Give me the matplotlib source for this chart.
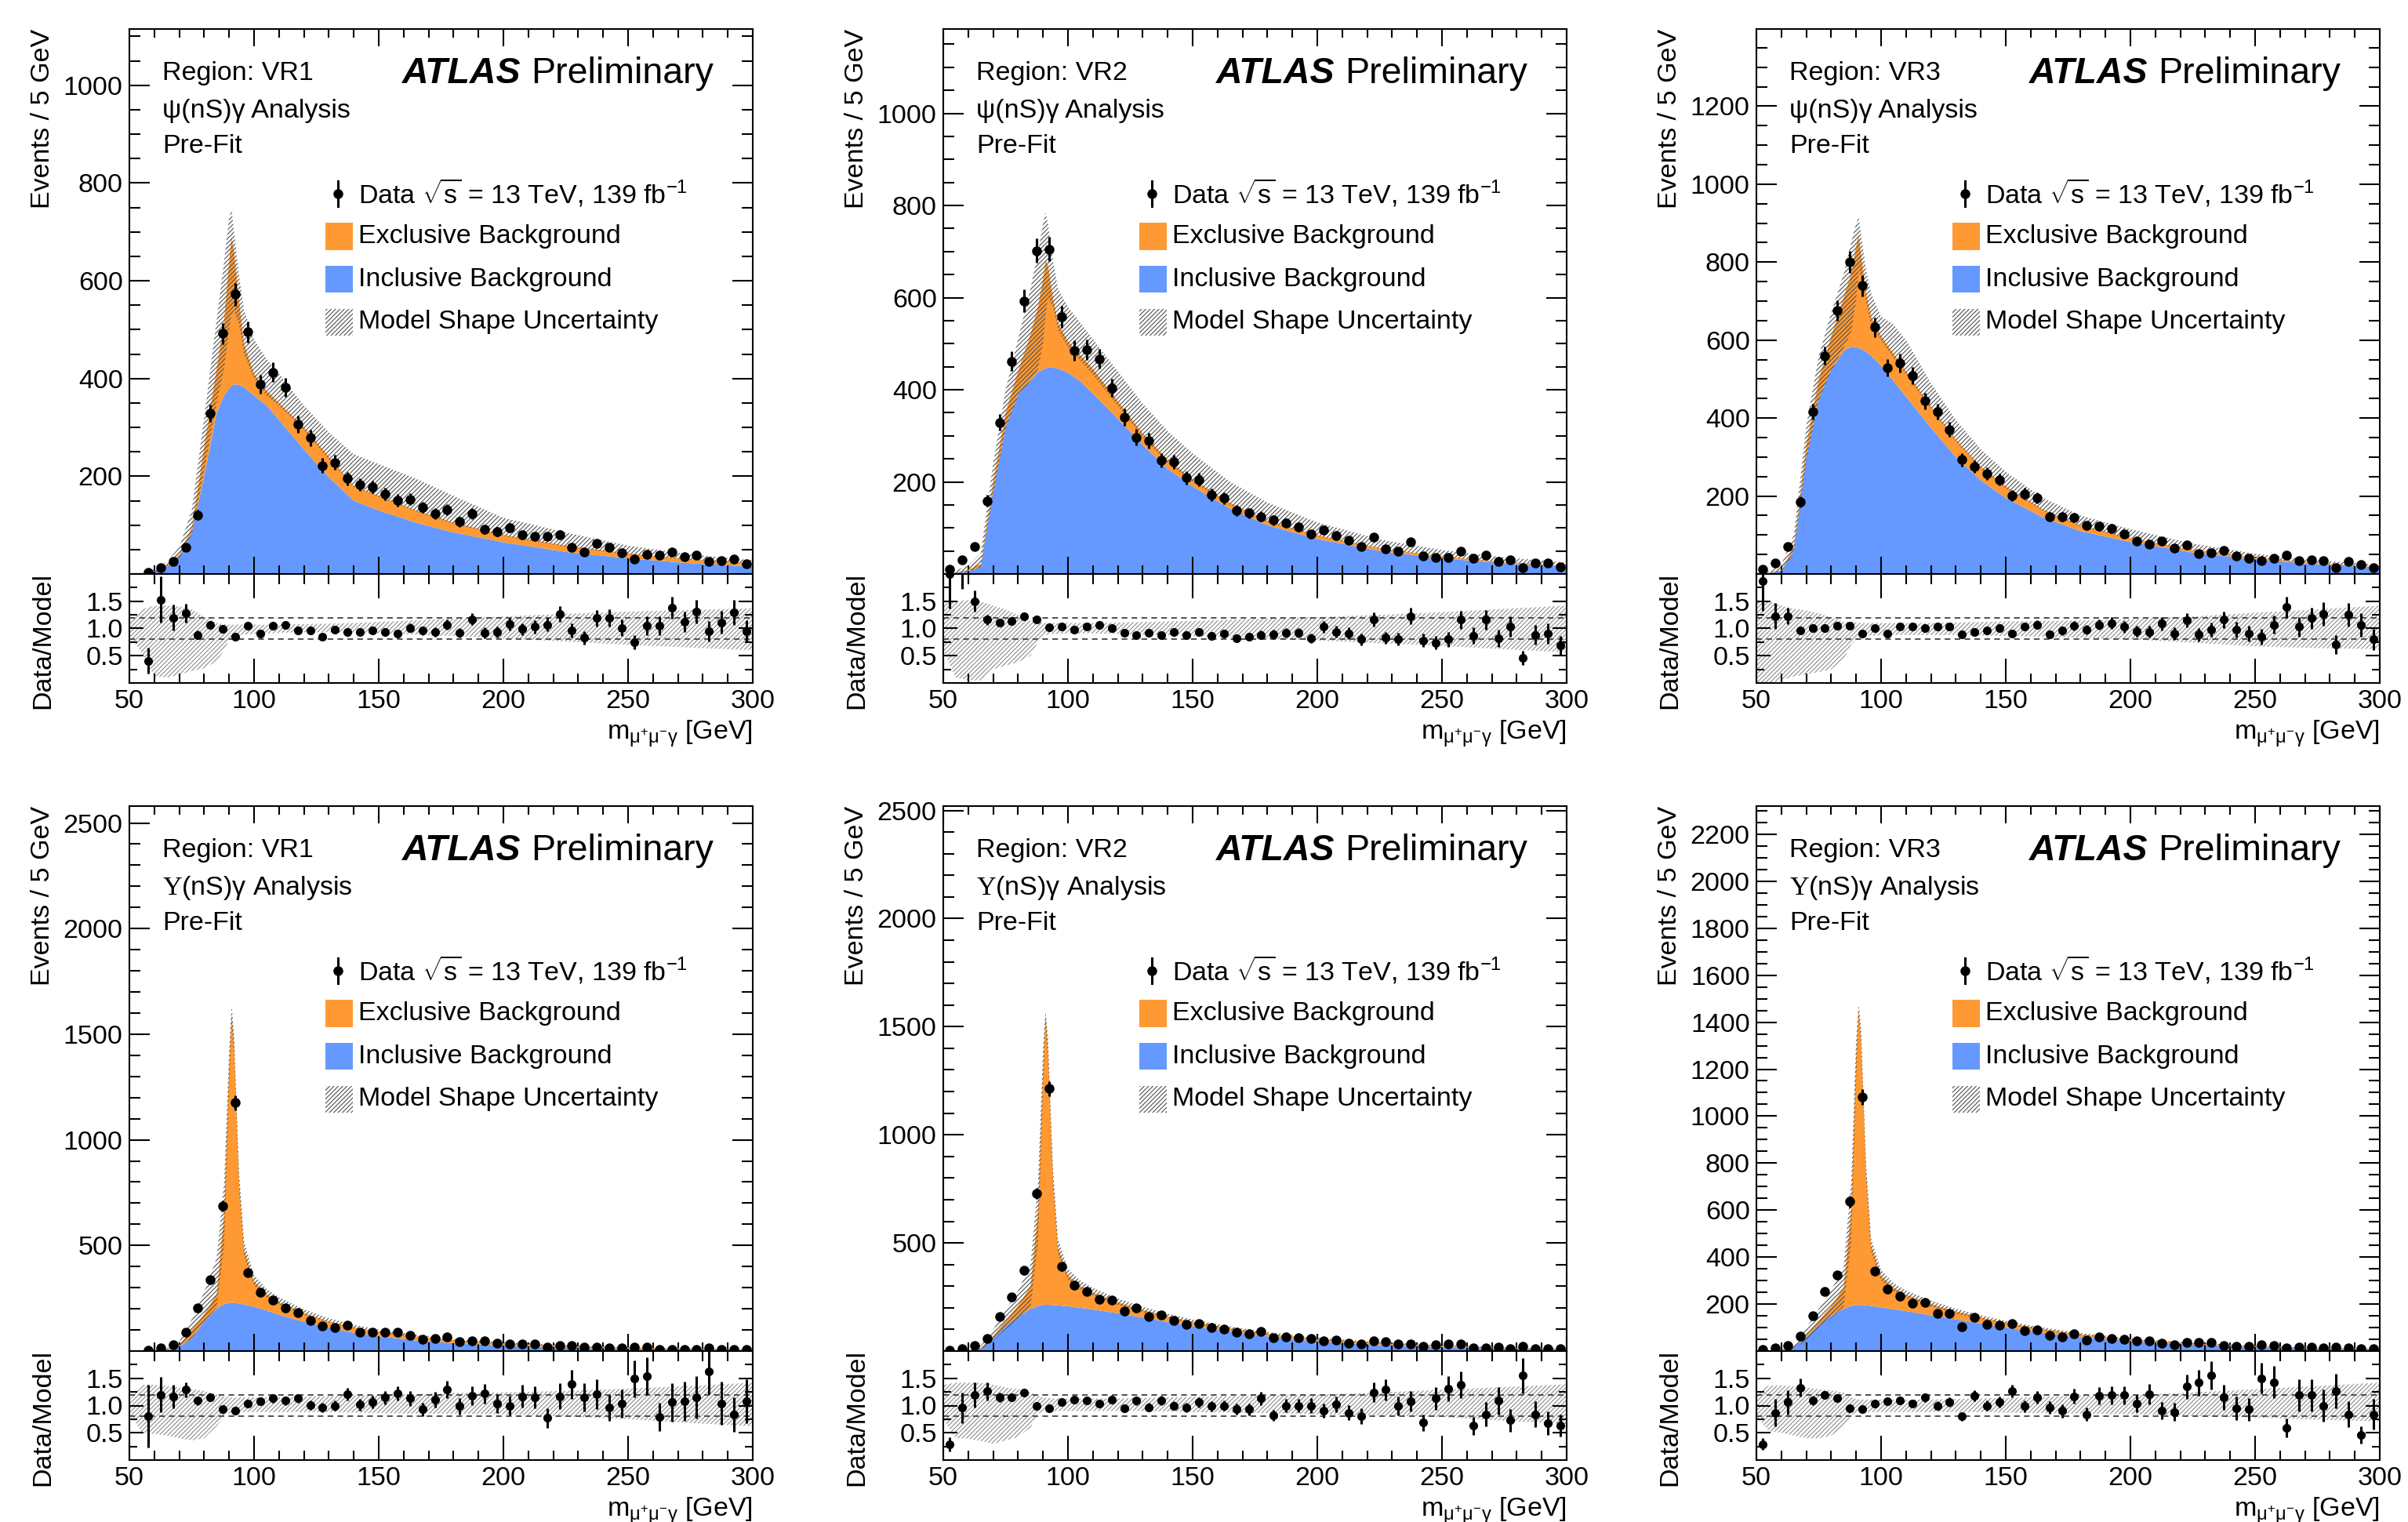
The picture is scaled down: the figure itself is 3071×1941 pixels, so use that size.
import numpy as np
import matplotlib
matplotlib.use('Agg')
import matplotlib.pyplot as plt
from matplotlib.ticker import MultipleLocator
from matplotlib.patches import Rectangle

plt.rcParams['font.family'] = ['Liberation Sans', 'DejaVu Sans']
plt.rcParams['mathtext.fontset'] = 'custom'
plt.rcParams['mathtext.rm'] = 'Liberation Sans'
plt.rcParams['mathtext.it'] = 'Liberation Sans:italic'
plt.rcParams['mathtext.bf'] = 'Liberation Sans:bold'
plt.rcParams['mathtext.sf'] = 'Liberation Serif'
plt.rcParams['hatch.linewidth'] = 0.8

nan = np.nan
FS = 24.5

# bin centres of the 5 GeV histogram bins, 50-300 GeV
bin_centers = np.arange(52.5, 300, 5.0)

model_x = [50, 55, 60, 65, 70, 75, 80, 85, 88, 90, 91, 92, 94, 96, 100, 105, 110,
           120, 130, 140, 150, 165, 180, 200, 225, 250, 275, 300]

# ---------------- psi(nS)gamma, VR1 ----------------
psi_vr1_data = [nan, 3, 13, 26, 55, 121, 329, 492, 572, 495, 388, 413, 382, 307, 279, 222, 228,
                195, 183, 178, 164, 151, 153, 136, 124, 131, 107, 123, 92, 87, 94, 80, 77, 77, 81,
                55, 45, 62, 55, 44, 31, 40, 38, 45, 35, 38, 26, 28, 31, 21]
psi_vr1_ratio = [nan, 0.41, 1.53, 1.20, 1.28, 0.88, 1.07, 0.99, 0.85, 1.05, 0.91, 1.05, 1.06, 0.97,
                 0.97, 0.85, 0.98, 0.94, 0.94, 0.97, 0.94, 0.91, 1.01, 0.96, 0.94, 1.07, 0.92, 1.17,
                 0.92, 0.94, 1.08, 0.99, 1.03, 1.07, 1.27, 0.96, 0.83, 1.19, 1.19, 1.01, 0.75, 1.05,
                 1.05, 1.38, 1.12, 1.31, 0.95, 1.11, 1.29, 0.95]
psi_vr1_incl = [0, 0, 5, 15, 35, 85, 200, 330, 365, 380, 385, 388, 387, 382, 365, 345, 315,
                255, 198, 150, 130, 105, 85, 65, 45, 32, 22, 15]
psi_vr1_total = [0, 0, 6, 18, 40, 95, 260, 420, 520, 640, 690, 660, 560, 470, 410, 375, 350,
                 300, 240, 180, 160, 130, 105, 80, 58, 42, 30, 22]
psi_vr1_band_hi = [0, 2, 10, 25, 55, 130, 320, 520, 640, 730, 745, 700, 610, 540, 480, 440, 410,
                   345, 290, 245, 225, 195, 160, 115, 85, 58, 40, 28]
psi_vr1_band_lo = [0, 0, 3, 12, 30, 80, 210, 350, 420, 500, 530, 540, 510, 450, 400, 365, 345,
                   295, 235, 178, 158, 128, 103, 78, 56, 40, 29, 21]
psi_vr1_rband_hi = [1.10, 1.35, 1.42, 1.42, 1.40, 1.35, 1.22, 1.10, 1.08, 1.07, 1.07, 1.07, 1.07, 1.07,
                    1.07, 1.07, 1.08, 1.08, 1.09, 1.10, 1.12, 1.15, 1.18, 1.22, 1.27, 1.31, 1.34, 1.37]
psi_vr1_rband_lo = [0.88, 0.55, 0.12, 0.10, 0.15, 0.22, 0.27, 0.40, 0.60, 0.78, 0.83, 0.86, 0.88, 0.89,
                    0.90, 0.91, 0.92, 0.93, 0.93, 0.92, 0.91, 0.89, 0.86, 0.82, 0.76, 0.70, 0.65, 0.60]

# ---------------- psi(nS)gamma, VR2 ----------------
psi_vr2_data = [10, 31, 59, 159, 329, 462, 593, 702, 705, 558, 485, 487, 467, 404, 341, 297, 289,
                247, 243, 209, 205, 172, 165, 138, 132, 125, 117, 111, 102, 86, 96, 83, 73, 60, 80,
                55, 49, 70, 39, 36, 36, 50, 34, 41, 28, 31, 13, 24, 24, 15]
psi_vr2_ratio = [2.0, 2.1, 1.50, 1.16, 1.11, 1.13, 1.22, 1.16, 1.02, 1.04, 0.98, 1.04, 1.07, 1.01,
                 0.92, 0.88, 0.92, 0.88, 0.94, 0.88, 0.94, 0.86, 0.91, 0.82, 0.85, 0.88, 0.89, 0.92,
                 0.92, 0.82, 1.03, 0.94, 0.91, 0.80, 1.16, 0.83, 0.80, 1.23, 0.78, 0.74, 0.80, 1.16,
                 0.87, 1.16, 0.82, 1.04, 0.46, 0.88, 0.91, 0.69]
psi_vr2_incl = [0, 2, 6, 15, 180, 320, 390, 420, 438, 444, 446, 448, 448, 446, 437, 418, 392,
                337, 280, 228, 190, 142, 106, 76, 50, 34, 23, 16]
psi_vr2_total = [0, 3, 9, 22, 200, 350, 440, 520, 580, 640, 680, 670, 600, 545, 505, 475, 445,
                 375, 305, 248, 206, 154, 116, 84, 56, 38, 26, 18]
psi_vr2_band_hi = [2, 8, 18, 45, 240, 400, 510, 620, 700, 760, 785, 760, 680, 620, 580, 545, 510,
                   440, 370, 310, 262, 200, 155, 112, 75, 52, 36, 25]
psi_vr2_band_lo = [0, 1, 5, 14, 175, 315, 385, 420, 445, 500, 560, 600, 580, 530, 492, 463, 433,
                   365, 297, 241, 200, 150, 113, 82, 55, 37, 25, 17]
psi_vr2_rband_hi = [1.45, 1.50, 1.52, 1.50, 1.42, 1.35, 1.25, 1.14, 1.12, 1.11, 1.10, 1.10, 1.10, 1.10,
                    1.10, 1.10, 1.10, 1.11, 1.12, 1.13, 1.14, 1.16, 1.18, 1.21, 1.25, 1.30, 1.36, 1.42]
psi_vr2_rband_lo = [0.60, 0.10, 0.05, 0.05, 0.25, 0.32, 0.38, 0.50, 0.75, 0.86, 0.88, 0.89, 0.90, 0.90,
                    0.91, 0.91, 0.91, 0.90, 0.89, 0.88, 0.86, 0.84, 0.81, 0.78, 0.73, 0.68, 0.62, 0.56]

# ---------------- psi(nS)gamma, VR3 ----------------
psi_vr3_data = [12, 28, 71, 185, 417, 560, 676, 800, 740, 633, 529, 541, 509, 444, 417, 371, 293,
                276, 258, 242, 202, 206, 196, 147, 147, 144, 124, 122, 117, 102, 85, 77, 84, 66, 75,
                53, 54, 60, 46, 40, 35, 41, 49, 34, 37, 35, 17, 33, 25, 17]
psi_vr3_ratio = [1.87, 1.23, 1.23, 0.96, 1.01, 1.01, 1.05, 1.05, 0.91, 1.00, 0.91, 1.03, 1.03, 1.00,
                 1.03, 1.03, 0.89, 0.93, 0.96, 1.00, 0.91, 1.03, 1.07, 0.89, 0.96, 1.05, 0.98, 1.07,
                 1.10, 1.03, 0.95, 0.94, 1.09, 0.91, 1.15, 0.89, 0.98, 1.16, 0.98, 0.91, 0.85, 1.07,
                 1.39, 1.03, 1.19, 1.27, 0.71, 1.25, 1.07, 0.80]
psi_vr3_incl = [0, 2, 8, 60, 300, 450, 525, 572, 583, 582, 580, 577, 570, 560, 535, 495, 455,
                375, 300, 240, 195, 145, 110, 82, 55, 37, 25, 17]
psi_vr3_total = [0, 3, 10, 70, 330, 500, 610, 710, 770, 840, 870, 820, 720, 660, 610, 565, 520,
                 430, 345, 275, 225, 165, 125, 92, 62, 42, 28, 19]
psi_vr3_band_hi = [1, 8, 25, 100, 380, 560, 670, 770, 850, 900, 915, 870, 780, 720, 660, 640, 600,
                   490, 395, 320, 262, 195, 150, 115, 78, 52, 35, 24]
psi_vr3_band_lo = [0, 1, 5, 55, 290, 445, 520, 580, 620, 700, 780, 760, 700, 640, 600, 555, 512,
                   425, 340, 270, 220, 162, 122, 90, 61, 41, 27, 18]
psi_vr3_rband_hi = [1.50, 1.50, 1.42, 1.36, 1.33, 1.28, 1.20, 1.12, 1.12, 1.11, 1.11, 1.10, 1.10, 1.10,
                    1.10, 1.10, 1.10, 1.10, 1.11, 1.12, 1.13, 1.14, 1.15, 1.17, 1.22, 1.29, 1.35, 1.42]
psi_vr3_rband_lo = [0.00, 0.00, 0.05, 0.12, 0.16, 0.20, 0.25, 0.44, 0.70, 0.80, 0.84, 0.86, 0.87, 0.87,
                    0.87, 0.88, 0.88, 0.88, 0.88, 0.87, 0.86, 0.85, 0.83, 0.80, 0.74, 0.67, 0.64, 0.62]

# ---------------- Upsilon(nS)gamma, VR1 ----------------
ups_vr1_data = [nan, 2, 14, 29, 88, 206, 337, 687, 1175, 371, 278, 240, 206, 183, 145, 120, 111,
                122, 88, 88, 88, 88, 75, 54, 59, 66, 43, 47, 47, 36, 32, 32, 32, 18, 25, 27, 20, 20,
                16, 16, 20, 20, 9, 9, 9, 9, 16, 7, 7, 7]
ups_vr1_ratio = [nan, 0.81, 1.20, 1.17, 1.29, 1.09, 1.15, 0.93, 0.91, 1.04, 1.08, 1.13, 1.09, 1.13,
                 1.01, 0.96, 1.00, 1.21, 1.02, 1.06, 1.15, 1.22, 1.13, 0.93, 1.11, 1.29, 0.99, 1.18,
                 1.22, 1.04, 1.00, 1.17, 1.15, 0.77, 1.17, 1.39, 1.15, 1.21, 0.96, 1.04, 1.49, 1.54,
                 0.79, 1.06, 1.08, 1.15, 1.62, 1.04, 0.84, 1.08]
ups_vr1_incl = [0, 0, 2, 5, 20, 60, 140, 200, 222, 228, 229, 228, 225, 220, 210, 192, 172,
                138, 111, 86, 70, 50, 37, 26, 17, 11, 7, 5]
ups_vr1_total = [0, 0, 3, 8, 30, 100, 175, 270, 650, 1350, 1600, 1450, 800, 480, 330, 270, 232,
                 180, 140, 112, 92, 70, 52, 37, 25, 17, 11, 8]
ups_vr1_band_hi = [0, 1, 5, 12, 45, 150, 280, 440, 800, 1420, 1640, 1500, 850, 520, 360, 295, 255,
                   198, 155, 125, 102, 78, 58, 42, 28, 19, 13, 9]
ups_vr1_band_lo = [0, 0, 1, 4, 18, 60, 140, 205, 500, 1250, 1540, 1400, 760, 450, 310, 255, 220,
                   172, 135, 108, 88, 67, 50, 35, 24, 16, 10, 7]
ups_vr1_rband_hi = [1.10, 1.38, 1.38, 1.36, 1.33, 1.30, 1.27, 1.20, 1.17, 1.16, 1.15, 1.15, 1.15, 1.15,
                    1.15, 1.15, 1.15, 1.16, 1.17, 1.18, 1.19, 1.21, 1.23, 1.24, 1.27, 1.31, 1.36, 1.42]
ups_vr1_rband_lo = [0.88, 0.50, 0.48, 0.45, 0.40, 0.36, 0.40, 0.62, 0.80, 0.86, 0.87, 0.88, 0.88, 0.88,
                    0.88, 0.88, 0.88, 0.88, 0.88, 0.87, 0.86, 0.85, 0.85, 0.84, 0.80, 0.75, 0.68, 0.62]

# ---------------- Upsilon(nS)gamma, VR2 ----------------
ups_vr2_data = [5, 12, 27, 58, 159, 251, 372, 729, 1214, 390, 306, 277, 240, 235, 185, 198, 159,
                168, 141, 124, 128, 108, 102, 86, 80, 91, 60, 65, 60, 58, 47, 49, 38, 32, 47, 45, 32,
                32, 21, 30, 32, 32, 14, 14, 19, 12, 23, 12, 10, 10]
ups_vr2_ratio = [0.29, 0.96, 1.20, 1.26, 1.15, 1.15, 1.24, 1.00, 0.95, 1.06, 1.11, 1.09, 1.04, 1.11,
                 0.95, 1.09, 0.97, 1.09, 1.00, 0.97, 1.06, 0.99, 1.00, 0.93, 0.93, 1.13, 0.82, 1.00,
                 1.00, 1.00, 0.91, 1.02, 0.87, 0.81, 1.24, 1.29, 0.99, 1.08, 0.69, 1.13, 1.31, 1.38,
                 0.63, 0.84, 1.09, 0.73, 1.55, 0.84, 0.68, 0.63]
ups_vr2_incl = [0, 0, 2, 12, 60, 115, 160, 195, 208, 213, 214, 214, 213, 211, 207, 200, 192,
                175, 155, 135, 115, 90, 68, 44, 28, 18, 12, 8]
ups_vr2_total = [0, 0, 3, 15, 70, 140, 210, 300, 650, 1300, 1560, 1400, 800, 480, 350, 300, 270,
                 225, 190, 160, 135, 105, 80, 56, 37, 24, 16, 11]
ups_vr2_band_hi = [0, 1, 6, 25, 100, 190, 280, 400, 780, 1400, 1575, 1450, 850, 520, 380, 325, 292,
                   243, 205, 173, 146, 114, 88, 62, 41, 27, 18, 13]
ups_vr2_band_lo = [0, 0, 1, 8, 45, 100, 150, 200, 500, 1200, 1500, 1350, 760, 450, 330, 285, 257,
                   213, 180, 152, 128, 100, 76, 53, 35, 23, 15, 10]
ups_vr2_rband_hi = [1.38, 1.42, 1.42, 1.42, 1.38, 1.33, 1.30, 1.24, 1.18, 1.15, 1.14, 1.14, 1.13, 1.13,
                    1.13, 1.13, 1.13, 1.13, 1.14, 1.15, 1.16, 1.17, 1.18, 1.20, 1.24, 1.29, 1.34, 1.39]
ups_vr2_rband_lo = [0.75, 0.40, 0.39, 0.35, 0.30, 0.36, 0.42, 0.60, 0.85, 0.89, 0.90, 0.90, 0.90, 0.90,
                    0.90, 0.90, 0.90, 0.90, 0.90, 0.89, 0.88, 0.87, 0.86, 0.84, 0.82, 0.79, 0.72, 0.66]

# ---------------- Upsilon(nS)gamma, VR3 ----------------
ups_vr3_data = [7, 12, 22, 63, 149, 253, 323, 636, 1081, 339, 263, 233, 202, 206, 161, 159, 104,
                145, 114, 110, 118, 87, 91, 67, 59, 73, 46, 59, 52, 50, 42, 42, 32, 28, 36, 36, 36,
                24, 20, 20, 28, 24, 12, 16, 16, 12, 16, 12, 9, 9]
ups_vr3_ratio = [0.29, 0.87, 1.06, 1.33, 1.09, 1.19, 1.14, 0.95, 0.93, 1.04, 1.08, 1.09, 1.04, 1.15,
                 1.00, 1.06, 0.80, 1.18, 1.00, 1.06, 1.26, 0.99, 1.15, 0.96, 0.90, 1.17, 0.84, 1.18,
                 1.19, 1.19, 1.04, 1.21, 0.91, 0.88, 1.35, 1.42, 1.55, 1.15, 0.95, 0.93, 1.50, 1.43,
                 0.59, 1.19, 1.19, 1.00, 1.27, 0.84, 0.46, 0.84]
ups_vr3_incl = [0, 0, 2, 15, 60, 110, 150, 180, 192, 196, 196, 196, 195, 192, 186, 178, 170,
                152, 135, 117, 100, 78, 60, 42, 27, 17, 11, 7]
ups_vr3_total = [0, 0, 3, 18, 70, 130, 190, 270, 600, 1250, 1460, 1330, 760, 450, 320, 270, 240,
                 200, 168, 143, 120, 93, 71, 50, 33, 21, 14, 9]
ups_vr3_band_hi = [0, 1, 6, 28, 100, 180, 260, 360, 720, 1330, 1480, 1370, 800, 480, 345, 290, 258,
                   215, 180, 153, 129, 100, 77, 54, 36, 23, 15, 10]
ups_vr3_band_lo = [0, 0, 1, 10, 45, 95, 140, 190, 460, 1150, 1420, 1300, 720, 425, 302, 255, 228,
                   190, 160, 136, 114, 88, 67, 47, 31, 20, 13, 8]
ups_vr3_rband_hi = [1.24, 1.37, 1.37, 1.35, 1.33, 1.30, 1.28, 1.24, 1.15, 1.12, 1.11, 1.11, 1.11, 1.11,
                    1.11, 1.11, 1.11, 1.11, 1.12, 1.13, 1.14, 1.16, 1.18, 1.19, 1.24, 1.30, 1.36, 1.42]
ups_vr3_rband_lo = [0.80, 0.53, 0.50, 0.45, 0.40, 0.40, 0.45, 0.60, 0.82, 0.87, 0.88, 0.88, 0.88, 0.88,
                    0.88, 0.88, 0.88, 0.88, 0.88, 0.88, 0.87, 0.86, 0.85, 0.84, 0.81, 0.78, 0.74, 0.71]

ORANGE = '#ff9933'
BLUE = '#6699ff'
FIG_W, FIG_H = 3071, 1941


def draw_panel(fig, left, top, data, ratio, incl, total, band_lo, band_hi, rband_lo, rband_hi,
               region, analysis, ymax, ymajor, yminor, ylast):
    main_h, ratio_h, width = 695, 139, 795
    ax = fig.add_axes([left / FIG_W, 1 - (top + main_h) / FIG_H, width / FIG_W, main_h / FIG_H])
    rax = fig.add_axes([left / FIG_W, 1 - (top + main_h + ratio_h) / FIG_H, width / FIG_W, ratio_h / FIG_H])

    data = np.array(data, dtype=float)
    ratio = np.array(ratio, dtype=float)

    # stacked model
    ax.fill_between(model_x, 0, incl, facecolor=BLUE, linewidth=0, zorder=1)
    ax.fill_between(model_x, incl, total, facecolor=ORANGE, linewidth=0, zorder=2)
    ax.fill_between(model_x, band_lo, band_hi, facecolor='none', edgecolor='#505050',
                    hatch='//////', linewidth=0, zorder=3)
    ax.errorbar(bin_centers, data, yerr=np.sqrt(data), fmt='o', color='black', ms=8,
                elinewidth=2.2, capsize=0, zorder=5)

    ax.set_xlim(50, 300)
    ax.set_ylim(0, ymax)
    ax.set_yticks(np.arange(ymajor, ylast + 1, ymajor))
    ax.yaxis.set_minor_locator(MultipleLocator(yminor))
    ax.xaxis.set_major_locator(MultipleLocator(50))
    ax.xaxis.set_minor_locator(MultipleLocator(10))
    ax.tick_params(which='both', direction='in', top=True, right=True, width=1.5,
                   labelbottom=False, labelsize=FS, pad=6)
    ax.tick_params(axis='y', which='major', length=19)
    ax.tick_params(axis='y', which='minor', length=10)
    ax.tick_params(axis='x', which='major', length=16)
    ax.tick_params(axis='x', which='minor', length=8)
    for sp in ax.spines.values():
        sp.set_linewidth(1.5)

    ax.text(-0.139, 1.0, 'Events / 5 GeV', rotation=90, ha='center', va='top',
            fontsize=FS, transform=ax.transAxes)

    # labels
    ax.text(0.053, 0.918, 'Region: ' + region, fontsize=FS, va='center', transform=ax.transAxes)
    ax.text(0.053, 0.850, analysis, fontsize=FS, va='center', transform=ax.transAxes)
    ax.text(0.053, 0.785, 'Pre-Fit', fontsize=FS, va='center', transform=ax.transAxes)
    ax.text(0.438, 0.918, 'ATLAS', fontsize=33.5, fontweight='bold', fontstyle='italic',
            va='center', transform=ax.transAxes)
    ax.text(0.644, 0.918, 'Preliminary', fontsize=33.5, va='center', transform=ax.transAxes)

    # legend
    rows = [0.698, 0.619, 0.541, 0.462]
    ax.plot([0.335, 0.335], [rows[0] - 0.023, rows[0] + 0.023], color='black', lw=2.2,
            transform=ax.transAxes, zorder=6)
    ax.plot([0.335], [rows[0]], 'o', color='black', ms=8, transform=ax.transAxes, zorder=6)
    ax.text(0.367, rows[0], r'Data $\sqrt{\mathrm{s}}$ = 13 TeV, 139 fb$^{-1}$', fontsize=FS,
            va='center', transform=ax.transAxes)
    ax.add_patch(Rectangle((0.315, rows[1] - 0.025), 0.043, 0.05, facecolor=ORANGE,
                           linewidth=0, transform=ax.transAxes))
    ax.text(0.367, rows[1], 'Exclusive Background', fontsize=FS, va='center', transform=ax.transAxes)
    ax.add_patch(Rectangle((0.315, rows[2] - 0.025), 0.043, 0.05, facecolor=BLUE,
                           linewidth=0, transform=ax.transAxes))
    ax.text(0.367, rows[2], 'Inclusive Background', fontsize=FS, va='center', transform=ax.transAxes)
    ax.add_patch(Rectangle((0.315, rows[3] - 0.025), 0.043, 0.05, facecolor='none',
                           edgecolor='#505050', hatch='//////', linewidth=0,
                           transform=ax.transAxes))
    ax.text(0.367, rows[3], 'Model Shape Uncertainty', fontsize=FS, va='center',
            transform=ax.transAxes)

    # ratio panel
    rax.fill_between(model_x, rband_lo, rband_hi, facecolor='none', edgecolor='#8c8c8c',
                     hatch='//////', linewidth=0, zorder=1)
    rax.axhline(0.8, color='#404040', lw=1.3, ls=(0, (4, 3)), zorder=2)
    rax.axhline(1.2, color='#404040', lw=1.3, ls=(0, (4, 3)), zorder=2)
    rax.errorbar(bin_centers, ratio, yerr=ratio / np.sqrt(data), fmt='o', color='black', ms=7,
                 elinewidth=2.2, capsize=0, zorder=5)
    rax.set_xlim(50, 300)
    rax.set_ylim(0, 2.0)
    rax.set_yticks([0.5, 1.0, 1.5])
    rax.set_yticklabels(['0.5', '1.0', '1.5'])
    rax.set_yticks([0.25, 0.75, 1.25, 1.75], minor=True)
    rax.xaxis.set_major_locator(MultipleLocator(50))
    rax.xaxis.set_minor_locator(MultipleLocator(10))
    rax.tick_params(which='both', direction='in', top=True, right=True, width=1.5,
                    labelsize=FS, pad=6)
    rax.tick_params(axis='y', which='major', length=13)
    rax.tick_params(axis='y', which='minor', length=7)
    rax.tick_params(axis='x', which='major', length=22)
    rax.tick_params(axis='x', which='minor', length=9)
    for sp in rax.spines.values():
        sp.set_linewidth(1.5)

    rax.text(-0.139, 0.39, 'Data/Model', rotation=90, ha='center', va='center',
             fontsize=FS, transform=rax.transAxes)
    rax.text(1.0, -0.33, r'$\mathrm{m}_{\mathrm{\mu^{+}\mu^{-}\gamma}}$ [GeV]', ha='right', va='top',
             fontsize=FS, transform=rax.transAxes)


fig = plt.figure(figsize=(30.71, 19.41), dpi=100)

cols = [165, 1203, 2240]
rows_top = [37, 1028]
psi_label = 'ψ(nS)γ Analysis'
ups_label = r'$\mathsf{Υ}$(nS)γ Analysis'

draw_panel(fig, cols[0], rows_top[0], psi_vr1_data, psi_vr1_ratio, psi_vr1_incl, psi_vr1_total,
           psi_vr1_band_lo, psi_vr1_band_hi, psi_vr1_rband_lo, psi_vr1_rband_hi,
           'VR1', psi_label, 1115, 200, 50, 1000)
draw_panel(fig, cols[1], rows_top[0], psi_vr2_data, psi_vr2_ratio, psi_vr2_incl, psi_vr2_total,
           psi_vr2_band_lo, psi_vr2_band_hi, psi_vr2_rband_lo, psi_vr2_rband_hi,
           'VR2', psi_label, 1183, 200, 50, 1000)
draw_panel(fig, cols[2], rows_top[0], psi_vr3_data, psi_vr3_ratio, psi_vr3_incl, psi_vr3_total,
           psi_vr3_band_lo, psi_vr3_band_hi, psi_vr3_rband_lo, psi_vr3_rband_hi,
           'VR3', psi_label, 1398, 200, 50, 1200)
draw_panel(fig, cols[0], rows_top[1], ups_vr1_data, ups_vr1_ratio, ups_vr1_incl, ups_vr1_total,
           ups_vr1_band_lo, ups_vr1_band_hi, ups_vr1_rband_lo, ups_vr1_rband_hi,
           'VR1', ups_label, 2580, 500, 100, 2500)
draw_panel(fig, cols[1], rows_top[1], ups_vr2_data, ups_vr2_ratio, ups_vr2_incl, ups_vr2_total,
           ups_vr2_band_lo, ups_vr2_band_hi, ups_vr2_rband_lo, ups_vr2_rband_hi,
           'VR2', ups_label, 2520, 500, 100, 2500)
draw_panel(fig, cols[2], rows_top[1], ups_vr3_data, ups_vr3_ratio, ups_vr3_incl, ups_vr3_total,
           ups_vr3_band_lo, ups_vr3_band_hi, ups_vr3_rband_lo, ups_vr3_rband_hi,
           'VR3', ups_label, 2320, 200, 50, 2200)

fig.savefig('out.png', dpi=100)
